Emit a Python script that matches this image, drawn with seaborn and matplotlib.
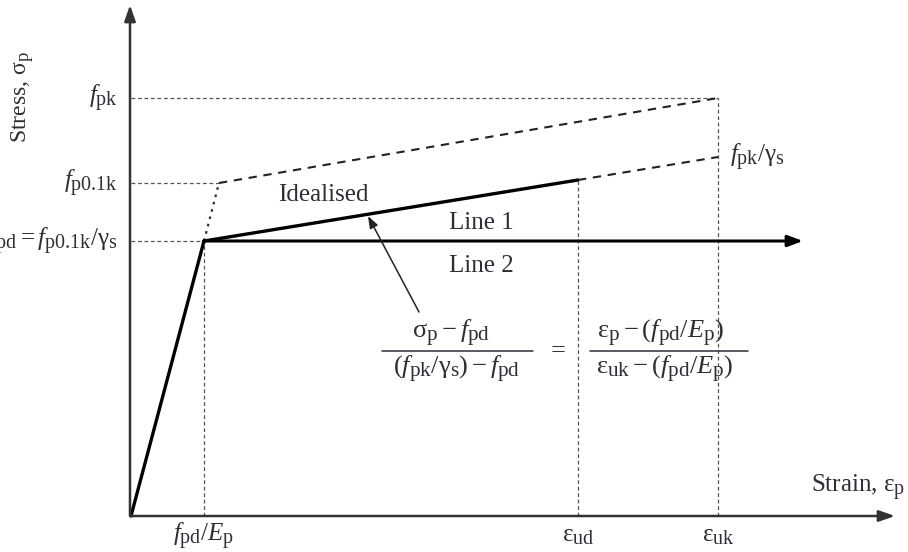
import matplotlib
matplotlib.use("Agg")
import matplotlib.pyplot as plt
import matplotlib._mathtext as mathtext_impl
import seaborn as sns
import pandas as pd

# Strain values (abscissa), arbitrary units
eps_pd = 73        # f_pd / E_p
eps_01k = 88       # strain at f_p0.1k on the characteristic curve
eps_ud = 447       # design ultimate strain
eps_uk = 587       # characteristic ultimate strain
eps_line1_end = 672

# Stress values (ordinate), arbitrary units
f_pd = 275         # f_p0.1k / gamma_s
f_p01k = 333
f_pk = 418
f_pk_gs = 359      # f_pk / gamma_s
f_ud = 336         # idealised stress at eps_ud

x_tick_labels = [r"$f_{\mathrm{pd}}/E_{\mathrm{p}}$",
                 r"$\mathrm{ε}_{\mathrm{ud}}$",
                 r"$\mathrm{ε}_{\mathrm{uk}}$"]
y_tick_labels = [r"$f_{\mathrm{pd}} = f_{\mathrm{p0.1k}}/\mathrm{γ}_{\mathrm{s}}$",
                 r"$f_{\mathrm{p0.1k}}$",
                 r"$f_{\mathrm{pk}}$"]

sns.set_theme(style="white")
plt.rcParams["font.family"] = ["Liberation Serif", "DejaVu Serif"]
plt.rcParams["mathtext.fontset"] = "custom"
plt.rcParams["mathtext.rm"] = "Liberation Serif"
plt.rcParams["mathtext.it"] = "Liberation Serif:italic"
plt.rcParams["mathtext.bf"] = "Liberation Serif:bold"
# larger subscripts than the mathtext default
mathtext_impl.SHRINK_FACTOR = 0.8

TXT = "#2e2e36"
GUIDE = "#555555"

fig = plt.figure(figsize=(9.08, 5.52), dpi=100)
ax = fig.add_axes([0, 0, 1, 1])
ax.set_xlim(-131, 777)
ax.set_ylim(-36, 516)
ax.axis("off")


def seg(xs, ys, **kw):
    df = pd.DataFrame({"strain": xs, "stress": ys})
    sns.lineplot(data=df, x="strain", y="stress", ax=ax, sort=False,
                 estimator=None, legend=False, **kw)


# guide lines to the axes
guide = dict(color=GUIDE, lw=0.9, dashes=(3, 2.2))
seg([0, eps_uk], [f_pk, f_pk], **guide)
seg([0, eps_01k], [f_p01k, f_p01k], **guide)
seg([0, eps_pd], [f_pd, f_pd], **guide)
seg([eps_pd, eps_pd], [0, f_pd], **guide)
seg([eps_ud, eps_ud], [0, f_ud], **guide)
seg([eps_uk, eps_uk], [0, f_pk], **guide)

# characteristic curve
seg([eps_pd, eps_01k], [f_pd, f_p01k], color="#333333", lw=1.6, dashes=(1.2, 2.2))
seg([eps_01k, eps_uk], [f_p01k, f_pk], color="#222222", lw=1.5, dashes=(4, 3.2))

# idealised design curve
seg([0, eps_pd], [0, f_pd], color="black", lw=2.4)
seg([eps_pd, eps_ud], [f_pd, f_ud], color="black", lw=2.4)
seg([eps_ud, eps_uk], [f_ud, f_pk_gs], color="#222222", lw=1.5, dashes=(4, 3.2))

# Line 1 / Line 2 horizontal branch
ax.annotate("", xy=(eps_line1_end, f_pd), xytext=(eps_pd, f_pd),
            arrowprops=dict(arrowstyle="-|>,head_length=0.75,head_width=0.28",
                            color="black", lw=2.2, shrinkA=0, shrinkB=0))

# axes with arrow heads
ax.annotate("", xy=(764, 0), xytext=(0, 0),
            arrowprops=dict(arrowstyle="-|>,head_length=0.8,head_width=0.28",
                            color="#333333", lw=1.8, shrinkA=0, shrinkB=0))
ax.annotate("", xy=(-1, 511), xytext=(-1, 0),
            arrowprops=dict(arrowstyle="-|>,head_length=0.8,head_width=0.28",
                            color="#333333", lw=1.8, shrinkA=0, shrinkB=0))

fs = 18     # plain words
ms = 18     # symbols
# stress labels
for v, lab in zip([f_pd, f_p01k, f_pk], y_tick_labels):
    ax.text(-13, v, lab, ha="right", va="center", fontsize=ms, color=TXT)
# strain labels
for v, lab in zip([eps_pd, eps_ud, eps_uk], x_tick_labels):
    ax.text(v, -25, lab, ha="center", va="baseline", fontsize=ms, color=TXT)

ax.text(eps_uk + 12, f_pk_gs, r"$f_{\mathrm{pk}}/\mathrm{γ}_{\mathrm{s}}$",
        ha="left", va="center", fontsize=ms, color=TXT)

ax.text(774, 28, r"Strain, $\mathrm{ε}_{\mathrm{p}}$", ha="right", va="center",
        fontsize=fs, color=TXT)
ax.text(-108, 419, r"Stress, $\mathrm{σ}_{\mathrm{p}}$", ha="center", va="center",
        rotation=90, fontsize=17, color=TXT)

ax.text(192, 321, "Idealised", ha="center", va="center", fontsize=fs, color=TXT)
ax.text(350, 293, "Line 1", ha="center", va="center", fontsize=fs, color=TXT)
ax.text(350, 250, "Line 2", ha="center", va="center", fontsize=fs, color=TXT)

# design relation for the inclined branch, set as two fractions
ffs = 19
ax.text(320, 183, r"$\mathrm{σ}_{\mathrm{p}} - f_{\mathrm{pd}}$",
        ha="center", va="center", fontsize=ffs, color=TXT)
ax.text(326, 147, r"$(f_{\mathrm{pk}}/\mathrm{γ}_{\mathrm{s}}) - f_{\mathrm{pd}}$",
        ha="center", va="center", fontsize=ffs, color=TXT)
ax.plot([251, 402], [165, 165], color=TXT, lw=1.1)
ax.text(427, 165, "=", ha="center", va="center", fontsize=ffs, color=TXT)
ax.text(529, 183, r"$\mathrm{ε}_{\mathrm{p}} - (f_{\mathrm{pd}}/E_{\mathrm{p}})$",
        ha="center", va="center", fontsize=ffs, color=TXT)
ax.text(534, 147, r"$\mathrm{ε}_{\mathrm{uk}} - (f_{\mathrm{pd}}/E_{\mathrm{p}})$",
        ha="center", va="center", fontsize=ffs, color=TXT)
ax.plot([459, 617], [165, 165], color=TXT, lw=1.1)

ax.annotate("", xy=(237, 300), xytext=(288, 204),
            arrowprops=dict(arrowstyle="-|>,head_length=0.6,head_width=0.22",
                            color="#222222", lw=1.1, shrinkA=0, shrinkB=0))

fig.savefig("out.png", dpi=100)
